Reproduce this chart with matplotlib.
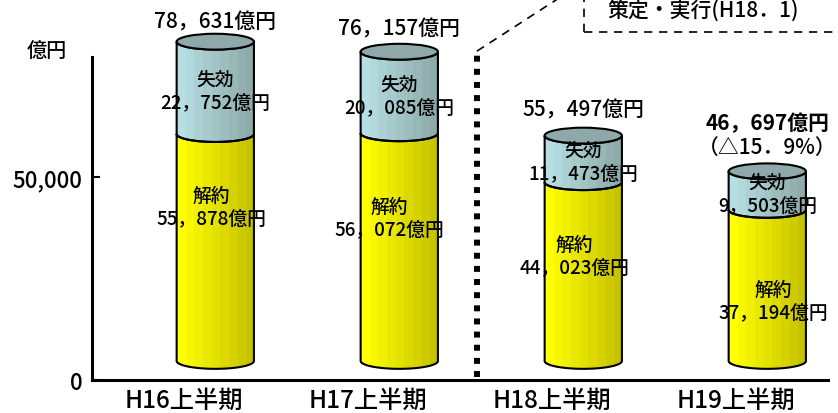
import numpy as np
import matplotlib.pyplot as plt
from matplotlib.patches import Polygon, Ellipse
from matplotlib.colors import to_rgb

plt.rcParams['font.family'] = ['Noto Sans CJK JP', 'DejaVu Sans']
plt.rcParams['font.weight'] = 500

# data (億円)
periods = ['H16上半期', 'H17上半期', 'H18上半期', 'H19上半期']
cancel = [55878, 56072, 44023, 37194]   # 解約
lapse = [22752, 20085, 11473, 9503]     # 失効
total = [78631, 76157, 55497, 46697]
change_pct = '（△15．9%）'

# layout of the fake 3D cylinders
BASE = 4700      # floor of the cylinders
CAP = 3900       # height of the elliptic caps
W = 0.42         # bar width
SHIFT = 0.17     # bars sit right of the category labels
top_off = [5000, 5600, 6300, 12000]
yel_frac = [0.68, 0.63, 0.59, 0.40]
yel_dx = [-0.02, -0.055, -0.05, 0.03]

YEL = ('#ffff00', '#c6c300')
BLU = ('#b7dfe3', '#8eaaa9')
TOPC = '#8fa9ab'


def fmt(v):
    return f'{v:,}'.replace(',', '，') + '億円'


def lower_arc(cx, cy):
    t = np.linspace(np.pi, 2 * np.pi, 60)
    return np.column_stack([cx + W / 2 * np.cos(t), cy + CAP / 2 * np.sin(t)])


def gradient(c0, c1, n=9):
    c0, c1 = np.array(to_rgb(c0)), np.array(to_rgb(c1))
    return np.array([c0 * (1 - f) + c1 * f for f in np.linspace(0, 1, n)])[None, :, :]


def segment(ax, cx, y0, y1, cols):
    pts = np.vstack([lower_arc(cx, y0), lower_arc(cx, y1)[::-1]])
    poly = Polygon(pts, closed=True, facecolor='none', edgecolor='black',
                   lw=1.5, zorder=3)
    ax.add_patch(poly)
    im = ax.imshow(gradient(*cols), extent=(cx - W / 2, cx + W / 2, y0 - CAP / 2, y1),
                   aspect='auto', interpolation='nearest', zorder=2)
    im.set_clip_path(poly)


fig = plt.figure(figsize=(8.38, 4.14), dpi=100)
ax = fig.add_axes([92 / 838, 33 / 414, 736 / 838, 381 / 414])

x = np.arange(len(periods))
for i in x:
    cx = i + SHIFT
    div = BASE + cancel[i]
    top = BASE + total[i]
    segment(ax, cx, BASE, div, YEL)
    segment(ax, cx, div, top, BLU)
    ax.add_patch(Ellipse((cx, top), W, CAP, facecolor=TOPC, edgecolor='black',
                         lw=1.5, zorder=4))

    # labels in the blue part
    mid = (div + top) / 2 - 700
    ax.text(cx, mid + 2800, '失効', ha='center', va='center', fontsize=13.5, zorder=5)
    ax.text(cx, mid - 2800, fmt(lapse[i]), ha='center', va='center', fontsize=13.5, zorder=5)
    # labels in the yellow part
    ym = BASE + cancel[i] * yel_frac[i]
    ax.text(cx + yel_dx[i], ym + 2800, '解約', ha='center', va='center', fontsize=13.5, zorder=5)
    ax.text(cx + yel_dx[i], ym - 2800, fmt(cancel[i]), ha='center', va='center',
            fontsize=13.5, zorder=5)
    # totals
    if i < len(x) - 1:
        ax.text(cx, top + top_off[i], fmt(total[i]), ha='center', va='center', fontsize=15)
    else:
        ax.text(cx, top + top_off[i], fmt(total[i]), ha='center', va='center',
                fontsize=15, fontweight='bold')
        ax.text(cx, top + top_off[i] - 6000, change_pct, ha='center', va='center', fontsize=15)

# dotted divider and callout
ax.plot([1.592, 1.592], [700, 81000], color='black', lw=4.3, ls=(0, (1, 1.2)),
        dash_capstyle='butt', zorder=3)
ax.plot([1.592, 2.03, 2.2], [81000, 93840, 97800], color='black', lw=1.2,
        ls=(0, (5, 4)), clip_on=False)
ax.plot([2.174, 2.174], [85700, 95000], color='black', lw=1.2, ls=(0, (5, 4)), clip_on=False)
ax.plot([2.174, 3.6], [85700, 85700], color='black', lw=1.2, ls=(0, (5, 4)), clip_on=False)
ax.text(2.299, 90900, '策定・実行(H18．1)', ha='left', va='center', fontsize=15)

ax.text(-0.745, 81000, '億円', ha='center', va='center', fontsize=14.5, clip_on=False)

ax.set_xlim(-0.5, 3.5)
ax.set_ylim(0, 93840)
for s in ['top', 'right']:
    ax.spines[s].set_visible(False)
for s in ['left', 'bottom']:
    ax.spines[s].set_linewidth(2.2)
ax.spines['left'].set_bounds(0, 79500)
ax.set_yticks([0, 50000])
ax.set_yticklabels(['0', '50,000'], fontsize=16)
ax.tick_params(axis='y', direction='in', length=6, width=1.5, pad=7)
ax.set_xticks(x)
ax.set_xticklabels(periods, fontsize=17.5)
ax.tick_params(axis='x', length=0, pad=5)

fig.savefig('out.png', dpi=100)
